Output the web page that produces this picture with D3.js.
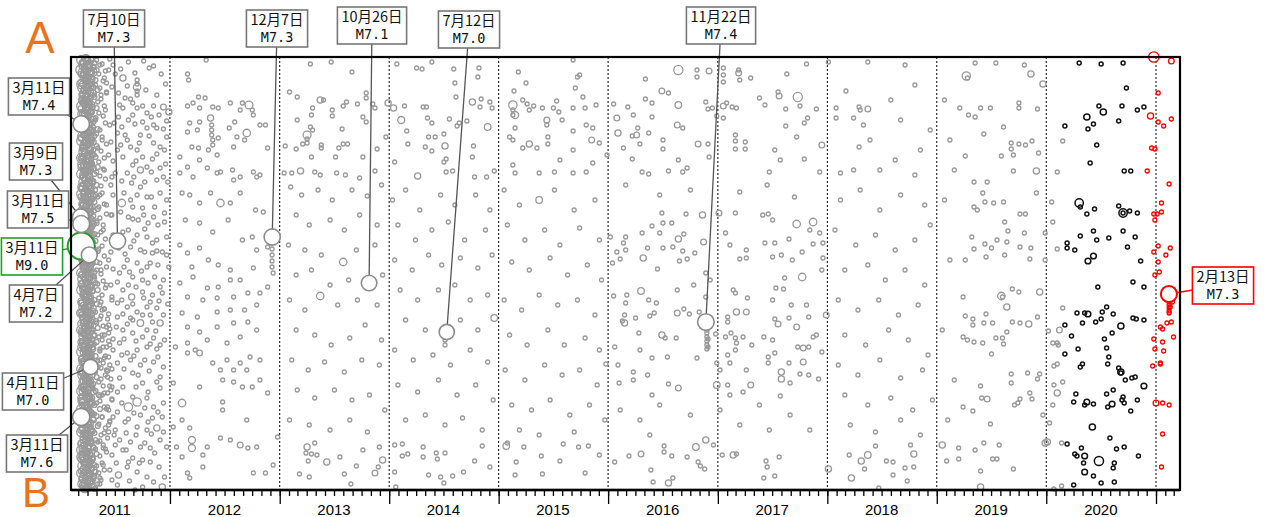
<!DOCTYPE html>
<html>
<head>
<meta charset="utf-8">
<script src="https://cdn.jsdelivr.net/npm/d3@7"></script>
<style>
  body { margin: 0; background: #fff; }
  svg text { font-family: "Noto Sans CJK JP", "Noto Sans", sans-serif; }
</style>
</head>
<body>
<div id="chart"></div>
<script>
// ---- data ----
// events: "pct:km[:mag]" — pct = % of the year, km = distance from A along A-B
const yearLabels = ['2011', '2012', '2013', '2014', '2015', '2016', '2017', '2018', '2019', '2020']

// dense 2011 aftershock band
const band60 = "19:3 21:8 20:16 22:20 19:27 20:31 22:38 21:44 19:49 20:57 22:61 19:66 21:72 20:79 19:84 22:88 21:95 19:101 20:107 22:112 19:117 21:125 20:130 19:137 22:141 21:147 20:154 19:158 22:165 20:170 21:176 19:181 22:187 20:194 19:199 21:203 22:210 19:216 20:222 21:228 19:233 22:238 20:245 21:250 19:256 22:262 20:267 19:273 21:279 22:285 20:290 19:295 21:302 22:307 19:312 20:318 21:325 22:330 19:334 20:341 21:347 19:352 22:357 20:364 21:370 19:375 22:380 20:387 19:393 21:398 22:404 20:409 19:416 21:421 20:427 22:431"
const band54 = "23:1 25:4 20:6 26:9 22:11 24:14 27:16 21:18 25:21 23:23 19:26 26:28 24:31 22:33 27:35 20:38 25:40 23:43 21:45 26:47 24:50 19:52 27:55 22:57 25:60 23:62 20:64 26:67 24:69 21:72 27:74 22:77 25:79 19:81 23:84 26:86 24:89 21:91 27:93 22:96 25:98 20:101 23:103 26:105 24:108 19:110 27:113 22:115 25:118 21:120 23:123 26:125 24:127 20:130 27:132 22:135 25:137 19:140 23:142 26:144 24:147 21:149 27:152 22:154 25:157 20:159 23:161 26:164 24:166 19:169 27:171 22:174 25:176 21:178 23:181 26:183 24:186 20:188 27:191 22:193 25:195 19:198 23:200 26:203 24:205 21:208 27:210 22:212 25:215 20:217 23:220 26:222 24:225 19:227 27:229 22:232 25:234 21:237 23:239 26:242 24:244 20:246 27:249 22:251 25:254 19:256 23:259 26:261 24:263 21:266 27:268 22:271 25:273 20:276 23:278 26:280 24:283 19:285 27:288 22:290 25:293 21:295 23:298 26:300 24:302 20:305 27:307 22:310 25:312 19:315 23:317 26:320 24:322 21:324 27:327 22:329 25:332 20:334 23:337 26:339 24:341 19:344 27:346 22:349 25:351 21:354 23:356 26:358 24:361 20:363 27:366 22:368 25:371 19:373 23:376 26:378 24:380 21:383 27:385 22:388 25:390 20:392 23:395 26:397 24:400 19:402 27:405 22:407 25:410 21:412 23:414 26:417 24:419 20:422 27:424 22:427 25:429 23:432"
const band52 = "24:1 28:3 21:6 26:8 30:10 22:13 27:15 19:17 25:20 29:22 23:24 20:27 28:29 25:31 21:34 30:36 24:38 27:41 19:43 26:45 22:48 29:50 23:52 28:55 20:57 25:59 30:62 22:64 27:66 24:69 19:71 29:73 26:76 21:78 28:80 23:83 30:85 25:87 20:90 27:92 22:94 29:97 24:99 19:101 26:104 28:106 21:108 30:111 23:113 25:115 20:118 27:120 22:122 29:125 24:127 26:129 19:132 28:134 21:136 30:139 23:141 25:143 27:146 20:148 29:150 22:153 24:155 26:157 19:160 28:162 21:164 30:167 23:169 25:171 27:174 20:176 29:178 22:181 24:183 26:185 28:188 19:190 21:192 30:195 23:197 25:199 27:202 20:204 29:206 22:209 24:211 26:213 28:216 19:218 21:220 30:223 23:225 25:227 27:230 20:232 29:234 22:237 24:239 26:241 28:244 19:246 21:248 30:251 23:253 25:255 27:258 20:260 29:262 22:265 24:267 26:269 28:272 19:274 21:276 30:279 23:281 25:283 27:286 20:288 29:290 22:293 24:295 26:297 28:300 19:302 21:304 30:307 23:309 25:311 27:314 20:316 29:318 22:321 24:323 26:325 28:328 19:330 21:332 30:335 23:337 25:339 27:342 20:344 29:346 22:349 24:351 26:353 28:356 19:358 21:360 30:363 23:365 25:367 27:370 20:372 29:374 22:377 24:379 26:381 28:384 19:386 21:388 30:391 23:393 25:395 27:398 20:400 29:402 22:405 24:407 26:409 28:412 19:414 21:416 30:419 23:421 25:423 27:426 20:428 29:430 22:432"
const band50 = "28:2 31:6 25:9 33:13 29:16 26:20 32:23 28:27 30:30 34:33 27:37 31:40 25:44 29:47 33:51 28:54 26:58 32:61 30:65 27:68 34:72 29:75 31:79 25:82 28:86 33:89 30:93 26:96 32:100 28:103 29:107 34:110 27:114 31:117 25:121 30:124 33:128 28:131 26:135 32:138 29:142 31:145 27:149 34:152 28:156 30:159 25:163 33:166 29:170 26:173 31:177 28:180 32:184 27:187 30:191 34:194 25:198 29:201 33:205 28:208 26:212 31:215 30:219 27:222 32:226 29:229 34:233 25:236 28:240 31:243 33:247 26:250 30:254 29:257 27:261 32:264 28:268 34:271 25:275 31:278 29:282 33:285 26:289 30:292 28:296 32:299 27:303 31:306 34:310 29:313 25:317 33:320 28:324 30:327 26:331 32:334 35:338 29:341 27:345 31:348 36:352 28:355 33:359 30:362 26:366 34:369 29:373 31:376 27:380 32:383 28:387 30:390 25:394 33:397 29:401 26:404 31:408 28:411 32:415 27:418 30:422 29:425 26:429 31:432"
const band48 = "33:3 38:7 30:10 41:14 35:17 29:21 39:24 32:28 36:31 42:35 31:38 37:42 34:45 40:49 28:52 35:56 39:59 32:63 41:66 30:70 36:73 33:77 38:80 29:84 42:87 34:91 37:94 31:98 40:101 35:105 28:108 39:112 33:115 36:119 41:122 30:126 37:129 32:133 38:136 34:140 29:143 40:147 35:150 31:154 42:157 36:161 33:164 39:168 28:171 37:175 34:178 41:182 30:185 38:189 35:192 32:196 40:199 29:203 36:206 42:210 33:213 37:217 31:220 39:224 34:227 41:231 30:234 38:238 35:241 28:245 36:248 40:252 32:255 37:259 43:262 33:266 39:269 30:273 44:276 35:280 38:283 31:287 42:290 36:294 29:297 40:301 34:304 45:308 37:311 32:315 41:318 46:322 35:325 39:329 30:332 43:336 36:339 47:343 33:346 40:350 44:353 31:357 38:360 45:364 35:367 41:371 29:374 37:378 43:381 34:385 39:388 32:392 42:395 36:399 30:402 38:406 33:409 40:413 35:416 31:420 37:423 34:427 32:431"
const band46 = "21:2 26:5 23:7 19:10 28:12 24:15 20:17 27:20 22:22 25:25 29:27 21:30 26:32 23:35 19:37 28:40 24:42 20:45 27:47 22:50 25:52 29:55 21:57 26:60 23:62 19:65 28:67 24:70 20:72 27:75 22:77 25:80 29:82 21:85 26:87 23:90 19:92 28:95 24:97 20:100 27:102 22:105 25:107 29:110 21:112 26:115 23:117 19:120 28:122 24:125 20:127 27:130 22:132 25:135 29:137 21:140 26:142 23:145 19:147 28:150 24:152 20:155 27:157 22:160 25:162 29:165 21:167 26:170 23:172 19:175 28:177 24:180 20:182 27:185 22:187 25:190 29:192 21:195 26:197 23:200 19:202 28:205 24:207 20:210 27:212 22:215 25:217 29:220 21:222 26:225 23:227 19:230 28:232 24:235 20:237 27:240 22:242 25:245 29:247 21:250 26:252 23:255 19:257 28:260 24:262 20:265 27:267 22:270 25:272 29:275 21:277 26:280 23:282 19:285 28:287 24:290 20:292 27:295 22:297 25:300 29:302 21:305 26:307 23:310 19:312 28:315 24:317 20:320 27:322 22:325 25:327 29:330 21:332 26:335 23:337 19:340 28:342 24:345 20:347 27:350 22:352 25:355 29:357 21:360 26:362 23:365 19:367 28:370 24:372 20:375 27:377 22:380 25:382 29:385 21:387 26:390 23:392 19:395 28:397 24:400 20:402 27:405 22:407 25:410 29:412 21:415 26:417 23:420 19:422 28:425 24:427 20:430 27:432"

const ev2011 = "45:2 50:17 57:21:5.3 42:26 42:36 70:30:5.6 70:23 70:27 70:34 70:38 81:11 59:41 64:42 54:48 57:51 66:46 70:51 75:49 79:56 85:49 94:50:5.2 99:55:5.3 66:58 62:63 75:65 85:68 88:71 94:72 79:71 53:60 52:76 59:78 61:83 73:78 81:79 85:86 97:80 91:90 52:93 70:93 75:100 66:108 79:110 91:111 73:113:5.3 61:116 50:116 56:146:5.6 65:126 73:130 88:123 94:120 70:138 79:140 91:136 66:150 75:151 86:150 95:156 62:160 71:163 80:166 89:168 57:175 70:178 79:180 88:183 64:190 73:193 84:196 93:195 61:203 70:206 79:210 89:208 54:216 66:220 75:223 86:220 94:223 57:233 65:240:5.3 75:235 84:238 93:236 52:246 61:250 70:255 79:250 88:251 52:260 64:261 73:266:5.4 84:265 91:266:5.3 57:273 66:276 75:280 85:281 95:283 54:286 39:290 48:293 61:296 70:293 79:290 91:288 52:306 64:303 73:308 85:305 94:310 43:320 54:321 66:316 75:326 88:325 52:335 62:350:5.8 70:345:5.8 79:341 85:350 94:346 43:350 52:355 73:358 84:361 45:365 59:365 70:370 79:373 88:371:5.3 91:383 50:373 54:383 64:385 73:390 82:391 39:391 47:398 57:393 66:401 75:403 61:410 70:415 53:418:5.3 47:423 68:433 93:430:5.3 79:420 36:421 36:8 40:21 44:13 37:38 41:53 45:68 38:83 44:98 40:113 46:128 36:138 42:148 47:158 39:173 44:203 37:213 42:228 47:243 38:253 44:268 40:278 45:288 36:303 42:313 46:333 38:338 44:375 39:408 45:413 36:427 19:13:6.3 29:15:6.0 24:8:5.8 20:400:6.3 29:413:6.0 37:245 40:252 36:262 42:270 38:278 44:284 36:292 41:299 39:306 43:314 37:322 45:329 40:336 36:344 42:352 38:360 44:368 40:376 36:384 41:392"
const ev2011b = "48:8 55:12 62:5 68:16 76:4 85:9 92:17 47:30 53:36 61:29 78:33 88:38 96:27 49:66 56:70 68:67 83:60 90:58 97:64 46:85 55:88 64:90 72:86 88:97 95:93 48:104 57:100 69:104 84:102 96:107 47:120 56:124 67:120 77:125 83:115 98:125 48:138 58:136 64:143 83:140 97:143 46:158 55:155 66:162 76:158 85:160 95:165 48:178 62:173 67:184 77:172 84:186 97:180 46:195 53:191 59:197 77:195 88:194 97:198 48:212 58:210 63:215 74:214 82:206 99:210 46:228 52:225 62:228 69:230 80:226 91:230 47:240 56:243 66:247 76:241 82:245 90:244 98:247 44:257 57:257 66:263 75:258 82:258 94:258 45:272 51:270 61:267 79:273 87:274 48:282 58:282 69:284 82:287 88:292 44:300 56:298 67:299 77:303 89:300 47:312 58:312 71:318 81:314 91:320 47:330 57:330 69:330 80:335 91:331 47:342 56:346 66:340 77:351 89:355 48:360 62:362 67:356 80:365 93:360 49:378 60:376 69:378 83:377 94:375 50:388 60:393 77:386 86:396 97:390 51:406 62:405 72:406 82:405 90:410 52:428 63:424 75:430 85:425 95:420"
const ev2012 = "33:3 16:17 17:23 26:40 32:41 21:46 16:49 27:51 39:50 55:46 66:46 72:48:5.7 75:53 76:58 64:53 44:51 37:61:5.3 27:65 18:66 25:73 16:75 38:68 38:73 38:78 39:83 39:88 44:81 54:71 59:65 70:76:5.6 68:83 82:68 87:68 89:91 61:80 58:90 35:93 26:91 20:90 43:98 27:103 9:100 16:110 34:111 43:116 57:113 76:115 82:118 9:116 21:120 46:115 58:123 64:120 79:120 11:136 18:138 27:146 37:136 46:146:5.6 55:146 64:136 78:153 85:155 14:163 27:166 39:175 53:163 66:183 75:180 79:193 89:190 9:188 16:196 27:191 35:203 20:210 44:208 55:213 76:211 64:223 55:223 44:230 34:231 21:220 9:226 16:240 30:243 43:241 58:240 71:236 82:236 89:230 79:248 68:253 55:253 43:255 25:260 11:256 16:270 27:275 43:270 58:266 71:265 79:273 64:280 52:286 34:283 16:286 93:186 93:192 93:198 93:204 93:210 94:216 5:290 16:296 23:293 27:296:5.2 39:306 52:303 64:306 73:300 82:303 46:313 58:313 70:313 3:326 11:346:5.6 27:330 48:323 58:325 66:330 75:330 82:323 89:336 48:345 48:353 70:363 11:363 18:371 3:370 20:383:5.5 20:391:5.5 34:390 46:381 55:383 64:388:5.2 71:391 79:390 6:390 11:400 30:398 30:410 16:416 18:421 76:416 87:416 94:408 98:380"
const ev2013 = "28:7 47:5 66:15 9:35 16:40 37:43:5.3 40:43 30:51 48:53 58:49 61:45 71:47 79:36 79:41 85:47 87:51 48:59 29:58 16:63 76:60 79:65 28:70 30:73 25:78:5.7 25:82 25:86 57:72 38:88 38:91 54:91 58:87 62:87 5:89 15:92 21:87 97:80 89:92 76:100 51:100 29:100 4:116 11:116 19:114:5.3 32:115 37:118 52:116 60:118 73:121 87:114 99:46:5.3 10:130 20:138 35:133 48:143 66:133 80:139 93:128 15:158 27:168 46:163 59:173 73:158 89:168 8:188 23:193 38:198 58:205:5.6 70:193 87:188 15:218 29:213 46:228 63:223 94:218 9:243 23:253 37:239:5.6 53:248 71:243 89:248 15:273 32:278 47:288 64:281 78:268 93:283 11:303 26:313 41:305 59:315 75:303 91:308 16:333 32:341 50:333 66:343 82:338 96:353 9:363 27:368 46:373 64:363 80:375 25:390:5.3 32:386 24:396 29:397 34:398 26:404 43:405:5.3 55:400 76:393 91:390 18:417 27:420 59:417 70:409 87:416:5.2 90:410 94:403:5.3 65:427"
const ev2014 = "7:7 25:11 30:12 39:5 59:12 82:11 81:20 60:26 61:40 76:45:5.3 84:42 83:50 92:45 94:51 4:51:5.3 14:49 31:50 34:50 11:63:5.5 35:61 39:66 55:62 62:69 64:66 71:64 90:70:5.4 16:74 50:77 36:80 42:80 17:87 51:89:5.3 33:90 39:94 77:89 52:102 50:105 76:100 5:105 26:119:5.3 52:115 58:114 78:120 89:120 96:114 3:143 15:133 28:153 47:138 60:148 79:138 92:153 8:168 24:183 39:173 54:165 69:183 88:173 5:203 21:213 36:198 48:208 65:201 81:211 94:198 10:233 26:243 45:233 60:228 74:243 90:238 15:263 33:273 65:263 81:273 96:261:5.4 5:293 22:303 40:298 56:308 74:293 90:305 8:328 26:335 45:323 62:338 79:328 95:343 15:363 33:358 51:368 67:361 85:373 5:388 12:387 12:399 17:397 31:390 31:400 43:396 51:396 44:402 85:389 78:404 92:410 5:415 36:418 47:420 58:419 68:415 50:426 6:430 51:283 51:288"
const ev2015 = "14:34 13:48:5.8 13:53 13:58 15:58:5.5 15:71 10:80 13:83 18:15 25:26 22:43 26:47 32:49 28:53 28:87:5.3 22:91 35:91 45:80 44:63:5.2 44:68 40:51 45:87 50:51 53:44 55:55 58:63 68:51 68:74 68:3 72:20 70:31 56:103 68:93 13:108 15:116 37:116 51:115 68:116 74:18 77:40 79:51 80:68 86:71 85:83:5.2 92:86 86:106 80:115 99:98 89:48 5:133 19:148 37:143:5.4 51:133 69:153 88:143 8:168 24:183 42:173 56:188 74:171 92:183 12:205 28:213 47:201 63:218 81:208 94:223 5:243 21:253 37:238 54:248 72:243 88:258 10:278 26:288 45:273 60:288 79:281 92:293 6:313 24:323 42:308 58:318 74:313 90:328 12:348 30:353 47:343 65:358 83:348 97:363 19:373 37:378 69:375 98:307 7:389:5.4 8:386 23:390 16:405 15:418 39:399 40:417 56:404 59:387 73:390 82:389 92:398 79:416"
const ev2016 = "34:22 64:13:6.0 81:13 81:20 92:14:5.2 49:34:5.2 55:36 34:42 40:46 64:48:5.4 5:47 18:50 8:61:5.2 23:58 40:60 89:45 91:52 95:51 99:59 63:68:5.2 68:71 27:71 26:78:5.2 22:79 9:76:5.3 37:76 14:91 29:87 50:83 50:92 82:87:5.2 91:87 92:100 64:103 22:102 31:115 37:117 55:114 68:115 72:111 16:128 47:138 75:133 2:180 16:180 14:186 8:195 16:193 11:202 4:206 32:201:5.3 31:176 40:169 50:166 58:166 49:156 71:157 86:158:5.3 47:176 64:182:5.3 69:177 59:190 50:191 36:191 68:194 79:196 87:185:5.2 65:204 72:202 45:212 78:228 30:234:5.4 63:233 89:216 93:223 17:238 5:239 16:246 37:243 44:246 89:240 69:252 74:257 63:256:5.2 83:255 15:258 13:264 15:266:5.3 25:261 38:259 42:256 28:276 49:278:5.3 52:281 62:281 6:290 29:293 40:301 54:300 81:301 9:308 23:315 36:318 55:327 64:331:5.2 10:326 23:323 40:338 90:273 90:276 90:280 91:282 90:284 90:288 91:290 90:292 99:306 99:328:5.4 98:277 11:353 29:363 47:348 75:358 38:378 6:405 19:399 30:397:5.2 39:413 41:425 51:389 51:395 58:399 72:400 80:390:5.4 82:405 84:409 88:412 89:383:5.3 96:388 55:426:5.3 59:421"
const ev2017 = "5:11 5:18 5:25 19:13 19:16:5.2 20:23 30:21 8:46 5:49:5.2 13:50 17:51 5:61 38:41 43:48 55:35 56:39:5.2 73:40:6.0 75:49 63:17 81:7 62:52 90:52 82:61 79:66 72:80 62:69 16:78 16:84 25:85 16:92 25:92 52:93 57:103 79:102 93:115 95:88:5.2 47:115 1:156:5.2 16:156 7:176 11:188 20:202 26:201 26:193 14:233 16:236 27:241 17:255:5.3 26:255:5.2 9:260 9:265 7:280 12:276 16:281 23:280 17:286 31:288 9:298 16:293 11:306 26:313 2:313 9:328 23:335 11:338 30:328:5.2 41:158 46:157 50:163 43:186 52:186 50:200 58:198 68:203 77:195 72:167:5.6 87:165:5.6 84:173 93:176 87:187 96:186 65:182 61:221 53:231 60:232 77:220:5.6 96:201 95:213 50:243 67:248 81:248 52:262 55:267:5.2 72:270:5.2 65:261 83:260 90:278 73:290 78:291:5.2 83:290 87:280 95:295 42:280 50:283 52:296 46:300 46:306 65:306 78:305:5.2 58:315:5.3 58:322:5.3 66:326 75:317 83:318 92:322 99:258:5.2 57:339 4:398 14:398:5.3 17:397 44:404 45:410 42:421 52:419 56:400 2:353 20:368 38:348 66:358 84:373 47:373 20:135 45:128 70:140"
const ev2018 = "1:5 37:5 17:34 8:51 8:61 24:61 29:50 30:53 37:52:5.2 33:68 29:90 12:116 24:113 58:43 67:63 80:28 39:83 62:103 85:93 48:113 80:118 94:73 71:8 12:143 30:133 48:153 67:138 89:148 7:173 26:188 44:178 62:193 80:183 94:168 16:213 37:208 53:223 71:213 89:228 10:243 28:253 47:243 65:258 83:248 16:278 35:288 56:273 74:283 92:298 10:308 28:318 48:303 67:321 87:313 16:338 37:348 58:341 78:353 96:343 21:368 44:375 67:363 85:378 1:412:5.3 20:398 37:398:5.4 31:404:5.3 44:389 34:412 22:421:5.3 54:404 60:405 60:418 76:388 79:397:5.3 71:411 79:410 73:424 47:431"
const ev2019 = "35:6 54:6 80:8 27:19:5.8 28:21 86:17:5.3 97:27:5.3 21:51 29:58 35:60 40:51 49:51 75:46 75:51 92:52 61:70 43:77 68:86 75:87 81:88 87:84 68:92 70:98 93:96 59:99 26:99 70:114 91:114:5.3 34:125 46:125 42:136 44:145 52:146 61:145 91:136 34:150 37:153 76:157 81:157 62:165 65:174 80:176 99:176 32:180 55:183 64:185 44:187 34:192 50:191 76:190 86:191 62:198 45:200 85:202 26:203 99:203 59:239:5.6 60:240 69:232 75:235 94:235:5.3 64:250:5.3 24:240 26:259 33:262 33:268 43:266 51:266 45:257 69:265 76:266 84:267:5.3 92:260 64:275 24:280 28:283 34:285 42:286 54:281 60:281 61:287 50:297 68:317 68:326 83:316 94:317 92:322 40:329 85:336 87:342 76:342 74:346 71:348 46:342:5.2 41:341 24:350 33:354 97:358 49:367 43:386 35:393 57:388 51:402 55:402 40:414 70:412 40:430:5.3 5:388:5.3 9:404 20:391 20:402 99:386:5.3 7:43 12:83 16:113 7:143 12:203 5:273 16:323 10:363"
const ev2020 = "10:115 15:84 6:286 11:288 7:309 10:307 10:336:5.3 7:328 15:325 6:348 3:366 1:385:5.3 14:386 7:432 14:429 5:145 6:165 10:192 15:251 12:273:5.2 10:286 2:274 30:6 50:7 70:6 73:31 48:49 69:49 83:53 89:50 37:60:5.3 52:55:5.3 43:67 38:72 66:64 17:69 46:88 40:106 71:114 77:114 30:146:5.8 31:150 37:157 44:152 66:149 70:156:5.8 70:156 76:154 83:156 31:179 43:174 46:183 57:181 70:174 81:180 19:186 19:191 26:193 38:204:5.2 43:199:5.2 74:190 86:204 79:225 89:230 47:230 28:256 35:256 38:257:5.2 51:255 55:250 61:257 45:265 50:262 33:266 79:261 82:262 89:263 68:269:5.3 17:268 60:276 23:279 53:282 29:292 55:291 17:297 57:300 33:307 31:310 56:307 66:311 68:315:5.3 68:316 72:323 78:321 81:320 89:329:5.2 55:337 61:333 27:337 25:345 37:345:5.2 35:348 43:347 56:350 60:347:5.2 70:340 69:343 71:346 77:354 83:343 42:370:5.3 58:381 19:387 32:391 64:392 71:390 26:397 28:399 35:399:5.2 48:404:6.0 34:406 62:406 61:411 84:399 35:415:5.2 43:419 50:426 62:425 25:428 98:0:6.2 95:59:5.3 96:91 99:92 92:114 98:157 99:163 98:195 99:218 98:282 99:292 97:309"
const ev2021 = "14:4:5.2 2:36 2:65 7:69 14:62 12:127 5:146 5:155 1:157 2:189 13:191 9:198 2:205 3:215 12:245 12:248 12:251 12:254 12:256 13:250 15:245 10:266 14:265 4:270 6:272 16:280 6:285 7:294 4:306 4:307 0:346:5.2 6:346 12:348 6:377 5:410"

// M7+ events with labels
const bigDate = ['2011-03-09', '2011-03-11', '2011-03-11', '2011-03-11', '2011-03-11', '2011-04-07', '2011-04-11',
                 '2011-07-10', '2012-12-07', '2013-10-26', '2014-07-12', '2016-11-22', '2021-02-13']
const bigKm = [160, 189, 167, 67, 360, 198, 310, 184, 180, 226, 275, 265, 237]
const bigMag = [7.3, 9.0, 7.5, 7.4, 7.6, 7.2, 7.0, 7.3, 7.3, 7.1, 7.0, 7.4, 7.3]
const bigDay = ['3月9日', '3月11日', '3月11日', '3月11日', '3月11日', '4月7日', '4月11日',
                '7月10日', '12月7日', '10月26日', '7月12日', '11月22日', '2月13日']

// label box centres (layout)
const boxAt = [[36, 161], [32, 256], [38, 209], [39, 96], [37, 453], [36, 303], [33, 391],
               [114, 28], [277, 28], [372, 25], [469, 29], [721, 25], [1223, 285]]

// ---- chart ----
const W = 1265, H = 517
const x = d3.scaleTime().domain([new Date(2011, 1, 5), new Date(2021, 2, 22)]).range([71, 1180])
const y = d3.scaleLinear().domain([0, 433]).range([57, 490])
const r = d3.scaleLinear().domain([4.8, 6, 7, 7.6, 9]).range([2.0, 4.6, 7.6, 8.6, 13.5]).clamp(true)

const blackFrom = new Date(2020, 2, 1)
const redFrom = new Date(2020, 11, 1)
const GRAY = '#999', BLACK = '#111', RED = '#ff0000', GREEN = '#1f9e2f', EDGE = '#8c8c8c'
const colour = t => t < blackFrom ? GRAY : (t < redFrom ? BLACK : RED)

function toDate(t) {
    const yr = Math.floor(t)
    const a = new Date(yr, 0, 1), b = new Date(yr + 1, 0, 1)
    return new Date(+a + (t - yr) * (b - a))
}
function parse(year, str, mag) {
    return str.trim().split(/\s+/).map(tok => {
        const p = tok.split(':').map(Number)
        return { t: toDate(year + p[0] / 100), km: p[1], mag: p.length > 2 ? p[2] : mag }
    })
}

const events = [
    ...parse(2011, band60, 6.0), ...parse(2011, band54, 5.4), ...parse(2011, band52, 5.2),
    ...parse(2011, band50, 5.0), ...parse(2011, band48, 4.8), ...parse(2011, band46, 4.8),
    ...parse(2011, ev2011, 4.8), ...parse(2011, ev2011b, 4.8), ...parse(2012, ev2012, 4.8),
    ...parse(2013, ev2013, 4.8), ...parse(2014, ev2014, 4.8), ...parse(2015, ev2015, 4.8),
    ...parse(2016, ev2016, 4.8), ...parse(2017, ev2017, 4.8), ...parse(2018, ev2018, 4.8),
    ...parse(2019, ev2019, 4.8), ...parse(2020, ev2020, 4.8), ...parse(2021, ev2021, 4.8)
].sort((a, b) => a.t - b.t)

const svg = d3.select('#chart').append('svg')
    .attr('width', W).attr('height', H)

// yearly dotted dividers
svg.append('g').attr('class', 'year_lines')
    .selectAll('line')
    .data(d3.timeYear.range(new Date(2012, 0, 1), new Date(2021, 0, 2)))
    .join('line')
    .attr('x1', d => x(d)).attr('x2', d => x(d))
    .attr('y1', 57).attr('y2', 490)
    .attr('stroke', '#000')
    .attr('stroke-width', 1)
    .attr('stroke-dasharray', '2,2')

// all events
svg.append('g').attr('class', 'events')
    .selectAll('circle')
    .data(events)
    .join('circle')
    .attr('cx', d => x(d.t))
    .attr('cy', d => y(d.km))
    .attr('r', d => r(d.mag))
    .attr('fill', 'none')
    .attr('stroke', d => colour(d.t))
    .attr('stroke-width', d => colour(d.t) === BLACK ? 1.5 : 1.3)

// big quakes
const big = bigDate.map((s, i) => {
    const p = s.split('-').map(Number)
    const t = new Date(p[0], p[1] - 1, p[2])
    const col = bigMag[i] >= 9 ? GREEN : (t >= redFrom ? RED : EDGE)
    return { t, km: bigKm[i], mag: bigMag[i], day: bigDay[i], box: boxAt[i], col }
})

// leader lines
svg.append('g').selectAll('line')
    .data(big)
    .join('line')
    .attr('x1', d => d.box[0]).attr('y1', d => d.box[1])
    .attr('x2', d => x(d.t)).attr('y2', d => y(d.km))
    .attr('stroke', d => d.col === EDGE ? '#555' : d.col)
    .attr('stroke-width', 1.3)

svg.append('g').selectAll('circle')
    .data(big)
    .join('circle')
    .attr('cx', d => x(d.t))
    .attr('cy', d => y(d.km))
    .attr('r', d => r(d.mag))
    .attr('fill', '#fff')
    .attr('stroke', d => d.col)
    .attr('stroke-width', d => d.col === EDGE ? 1.6 : 2)

// label boxes: one text, two lines
const boxes = svg.append('g').selectAll('g')
    .data(big)
    .join('g')
    .attr('transform', d => `translate(${d.box[0]},${d.box[1]})`)
boxes.append('rect')
const label = boxes.append('text').attr('text-anchor', 'middle').attr('fill', '#111')
label.append('tspan').attr('x', 0).attr('y', -3).attr('font-size', 14.5).text(d => d.day)
label.append('tspan').attr('x', 0).attr('y', 14)
    .style('font-family', '"DejaVu Sans Mono", monospace').attr('font-size', 13.5)
    .text(d => 'M' + d.mag.toFixed(1))
boxes.each(function (d) {
    const g = d3.select(this)
    const w = g.select('text').node().getBBox().width + 8
    g.select('rect')
        .attr('x', -w / 2).attr('y', -18).attr('width', w).attr('height', 37)
        .attr('fill', '#fff')
        .attr('stroke', d.col === EDGE ? '#777' : d.col)
        .attr('stroke-width', 1.6)
})

// frame
svg.append('rect')
    .attr('x', 71).attr('y', 57).attr('width', 1180 - 71).attr('height', 490 - 57)
    .attr('fill', 'none').attr('stroke', '#000').attr('stroke-width', 2.2)

// time axis
const [d0, d1] = x.domain()
const axisG = svg.append('g').attr('transform', 'translate(0,490)')
axisG.append('g')
    .call(d3.axisBottom(x).tickValues(d3.timeMonth.range(d0, d1)).tickSize(6).tickFormat(''))
axisG.append('g')
    .call(d3.axisBottom(x).tickValues(d3.timeYear.range(d0, d1)).tickSize(14).tickFormat(''))
axisG.selectAll('.domain').remove()
axisG.selectAll('.tick line').attr('stroke', '#000').attr('stroke-width', 1.3)
axisG.append('line').attr('x1', 71).attr('x2', 1180).attr('stroke', '#000').attr('stroke-width', 2.6)

svg.append('g').selectAll('text')
    .data(yearLabels)
    .join('text')
    .attr('x', d => x(new Date(+d, 6, 1)))
    .attr('y', 515)
    .attr('text-anchor', 'middle')
    .attr('font-size', 15)
    .style('font-family', '"Liberation Sans", Arial, sans-serif')
    .text(d => d)

// A / B end markers
svg.append('text').attr('x', 40).attr('y', 53).attr('text-anchor', 'middle')
    .attr('font-size', 44).attr('fill', '#e8731a')
    .style('font-family', '"Liberation Sans", Arial, sans-serif').text('A')
svg.append('text').attr('x', 36).attr('y', 507).attr('text-anchor', 'middle')
    .attr('font-size', 42).attr('fill', '#e8731a')
    .style('font-family', '"Liberation Sans", Arial, sans-serif').text('B')
</script>
</body>
</html>
